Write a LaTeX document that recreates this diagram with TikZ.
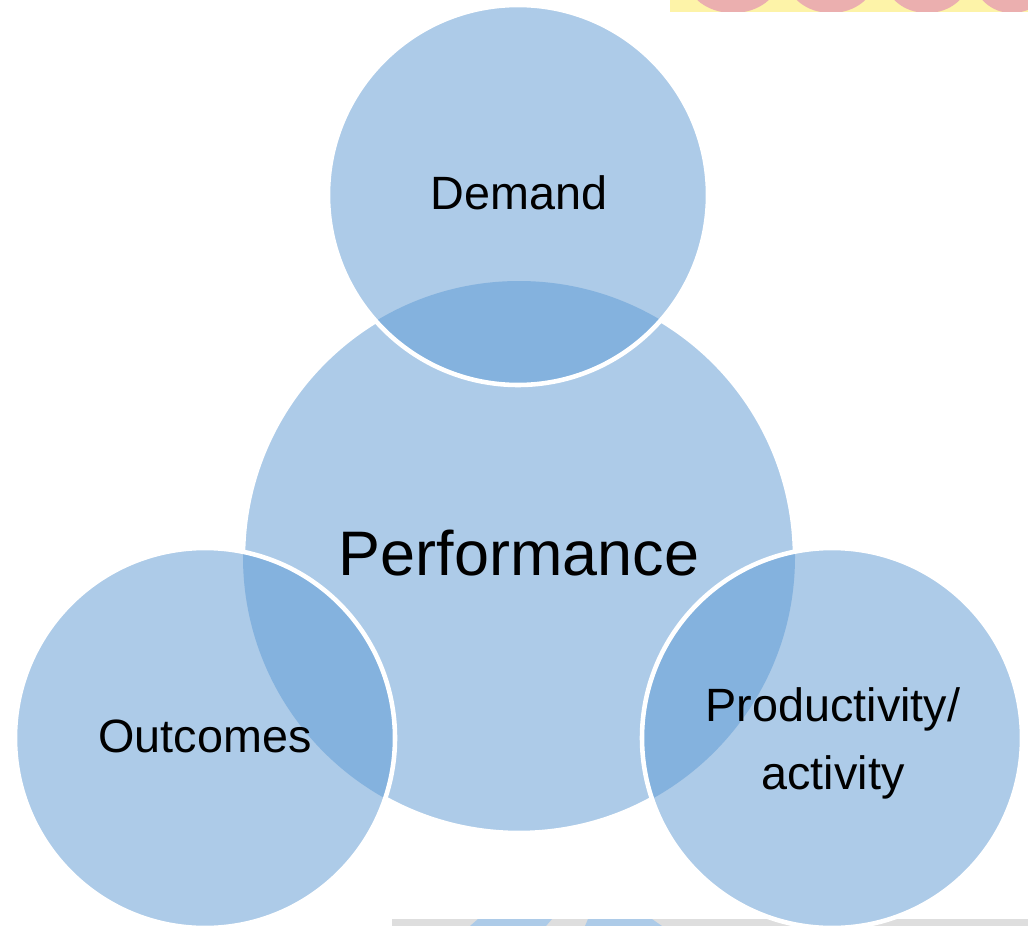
\documentclass[tikz,border=0pt]{standalone}
\usepackage{fontspec}
\setmainfont{Liberation Sans}
\definecolor{lightblue}{HTML}{ADCBE8}
\definecolor{darkblue}{HTML}{84B2DE}
\definecolor{bandyellow}{HTML}{FDF3A8}
\definecolor{bandpink}{HTML}{EBAFAF}
\definecolor{bandgray}{HTML}{DEDEDE}
\begin{document}
\begin{tikzpicture}[x=0.02cm,y=-0.02cm,
  disc/.style={fill=lightblue},
  rim/.style={draw=white,line width=2.6pt},
  lbl/.style={text=black,anchor=base,inner sep=0pt,font=\fontsize{26.6}{38.6}\selectfont,align=center},
  biglbl/.style={text=black,anchor=base,inner sep=0pt,font=\fontsize{35.8}{42}\selectfont}]
\useasboundingbox (0,0) rectangle (1028,926);
\clip (0,0) rectangle (1028,926);
% background fragments
\fill[bandyellow] (670,0) rectangle (1028,12);
\begin{scope}
\clip (670,0) rectangle (1028,12);
\fill[bandpink] (733,-22) ellipse (46 and 35);
\fill[bandpink] (831,-22) ellipse (44 and 35);
\fill[bandpink] (927,-22) ellipse (42 and 35);
\fill[bandpink] (1012,-22) ellipse (38 and 35);
\end{scope}
\fill[bandgray] (392,919) rectangle (1028,926);
\fill[lightblue] (470,926) -- (478,919) -- (552,919) -- (546,926) -- cycle;
\fill[lightblue] (585,926) -- (588,919) -- (652,919) -- (662,926) -- cycle;
% centres
\coordinate (pc) at (519,557);
\coordinate (dc) at (518,195);
\coordinate (oc) at (205,738);
\coordinate (ac) at (832,738);
% big circle
\fill[disc] (pc) circle (276);
\draw[rim] (pc) circle (276);
% small circles
\foreach \c in {dc,oc,ac} \fill[disc] (\c) circle (190);
\foreach \c in {dc,oc,ac} {
  \begin{scope}
    \clip (pc) circle (276);
    \fill[darkblue] (\c) circle (190);
  \end{scope}
}
\foreach \c in {dc,oc,ac} \draw[rim] (\c) circle (190);
% labels
\node[lbl] (demand) at (519,209) {Demand};
\node[biglbl] (perf) at (519,575) {Performance};
\node[lbl] (outc) at (205,752) {Outcomes};
\node[lbl] (prod) at (833,721) {Productivity/};
\node[lbl] (act) at (833,789) {activity};
\end{tikzpicture}
\end{document}
